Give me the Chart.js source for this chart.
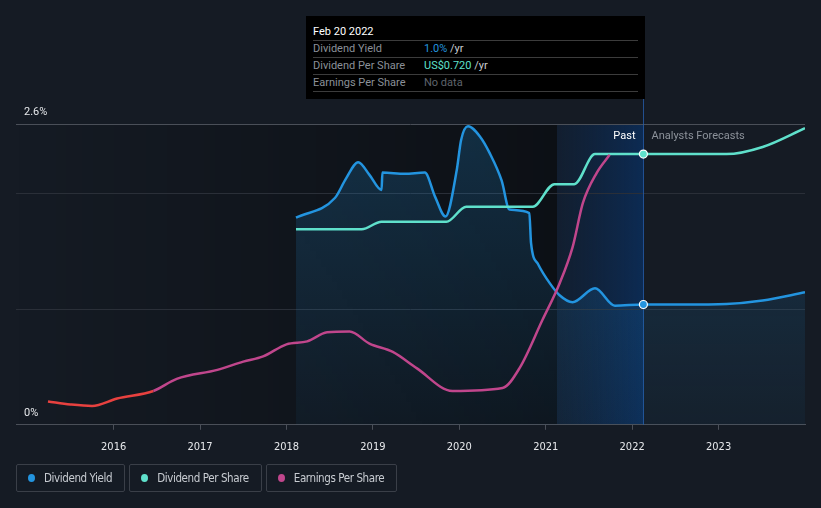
<!DOCTYPE html>
<html>
<head>
<meta charset="utf-8">
<script src="https://cdn.jsdelivr.net/npm/chart.js@4/dist/chart.umd.min.js"></script>
<style>
  body { margin: 0; background: #151b24; font-family: Roboto, sans-serif; }
  #wrap { position: relative; width: 821px; height: 508px; overflow: hidden; }
  canvas { position: absolute; left: 0; top: 0; }
  .tip { position: absolute; left: 306px; top: 16px; width: 339px; height: 83px; background: #000;
         box-sizing: border-box; padding: 0 7px; font-size: 11px; }
  .tip .title { padding-top: 8px; height: 16px; line-height: 15px; color: #fff; border-bottom: 1px solid #3c3c3c; }
  .tip .row { height: 16px; line-height: 16px; border-bottom: 1px solid #3c3c3c; color: #8b9098; white-space: nowrap; }
  .tip .row span.lbl { display: inline-block; width: 111px; }
  .tip .unit { color: #c9ccd1; }
  .legend { position: absolute; top: 464px; left: 16px; display: flex; gap: 4px; }
  .legend div { height: 26px; border: 1px solid #3a3f48; border-radius: 2px; box-sizing: content-box;
                display: flex; align-items: center; padding: 0 12px 0 11px; color: #c8ccd2;
                font-family: "DejaVu Sans Condensed", "DejaVu Sans", sans-serif; font-size: 11.5px; letter-spacing: -0.4px; }
  .legend i { width: 7px; height: 8px; border-radius: 50%; margin-right: 9px; display: inline-block; }
</style>
</head>
<body>
<div id="wrap">
  <canvas id="chart" width="821" height="508"></canvas>
  <div class="tip" id="tip"></div>
  <div class="legend" id="legend"></div>
</div>
<script>
// dividend yield (%), past + analyst forecast
const yieldYears = [2018.11, 2018.56, 2018.69, 2018.83, 2018.96, 2019.10, 2019.11, 2019.37, 2019.60, 2019.72, 2019.84,
  2019.97, 2020.02, 2020.10, 2020.24, 2020.35, 2020.49, 2020.58, 2020.81, 2020.83, 2020.91, 2021.05, 2021.16,
  2021.31, 2021.57, 2021.80, 2022.13, 2022.60, 2023.09, 2023.51, 2024.00];
const yieldValues = [1.79, 1.96, 2.13, 2.27, 2.16, 2.03, 2.18, 2.17, 2.18, 1.97, 1.80,
  2.20, 2.46, 2.58, 2.49, 2.35, 2.11, 1.86, 1.83, 1.57, 1.39, 1.22, 1.12,
  1.06, 1.18, 1.03, 1.04, 1.04, 1.045, 1.075, 1.145];

// dividend per share (US$ / yr)
const dpsYears = [2018.11, 2018.87, 2019.10, 2019.85, 2020.08, 2020.85, 2021.10, 2021.33, 2021.57, 2022.13, 2022.60, 2023.09, 2023.51, 2024.00];
const dpsValues = [0.52, 0.52, 0.54, 0.54, 0.58, 0.58, 0.64, 0.64, 0.72, 0.72, 0.72, 0.72, 0.739, 0.789];

// earnings per share (US$)
const epsYears = [2015.24, 2015.50, 2015.75, 2016.04, 2016.46, 2016.73, 2017.20, 2017.50, 2017.73, 2018.00, 2018.24,
  2018.47, 2018.73, 2018.96, 2019.23, 2019.51, 2019.92, 2020.50, 2020.70, 2020.96, 2021.16, 2021.31, 2021.43, 2021.59, 2021.74];
const epsValues = [0.31, 0.27, 0.25, 0.35, 0.45, 0.61, 0.73, 0.84, 0.91, 1.07, 1.11,
  1.23, 1.24, 1.08, 0.97, 0.75, 0.45, 0.49, 0.76, 1.39, 1.88, 2.36, 2.95, 3.35, 3.59];

const yearTicks = [2016, 2017, 2018, 2019, 2020, 2021, 2022, 2023];
const yieldTicks = [0, 1, 2, 2.6];
const nowX = 2022.13;
const nowLabel = "Feb 20 2022";
const lastYearX = 2021.13;

const BLUE = "#2394df", TEAL = "#5fe0cb", PINK = "#c0468c", RED = "#e8413f";

const pts = (xs, ys) => xs.map((x, i) => ({ x: x, y: ys[i] }));
const markerRadius = ctx => (ctx.raw && ctx.raw.x === nowX ? 4 : 0);

const shading = {
  id: "shading",
  beforeDraw(chart) {
    const { ctx, chartArea: ca, scales } = chart;
    const xs = scales.x;
    const xl = xs.getPixelForValue(lastYearX), xn = xs.getPixelForValue(nowX);
    ctx.save();
    let g = ctx.createLinearGradient(ca.left, 0, xl, 0);
    g.addColorStop(0, "rgba(0,0,0,0)");
    g.addColorStop(1, "rgba(0,0,0,0.4)");
    ctx.fillStyle = g;
    ctx.fillRect(ca.left, ca.top, xl - ca.left, ca.bottom - ca.top);
    g = ctx.createLinearGradient(xl, 0, xn, 0);
    g.addColorStop(0, "rgba(14,38,70,0.35)");
    g.addColorStop(1, "rgba(12,44,86,0.95)");
    ctx.fillStyle = g;
    ctx.fillRect(xl, ca.top, xn - xl, ca.bottom - ca.top);
    ctx.restore();
  },
  beforeDatasetsDraw(chart) {
    const { ctx, chartArea: ca, scales } = chart;
    const xn = Math.round(scales.x.getPixelForValue(nowX)) + 0.5;
    ctx.save();
    ctx.strokeStyle = "rgba(38,92,170,0.8)";
    ctx.lineWidth = 1;
    ctx.beginPath();
    ctx.moveTo(xn, 99);
    ctx.lineTo(xn, ca.bottom);
    ctx.stroke();
    ctx.font = "11px Roboto";
    ctx.textBaseline = "middle";
    ctx.textAlign = "right";
    ctx.fillStyle = "#ffffff";
    ctx.fillText("Past", xn - 8, ca.top + 12);
    ctx.textAlign = "left";
    ctx.fillStyle = "#8c929a";
    ctx.fillText("Analysts Forecasts", xn + 8, ca.top + 12);
    ctx.restore();
  }
};

const chart = new Chart(document.getElementById("chart"), {
  type: "line",
  data: {
    datasets: [
      {
        label: "Earnings Per Share",
        data: pts(epsYears, epsValues),
        yAxisID: "yEps",
        borderColor: PINK,
        borderWidth: 2.5,
        pointRadius: 0,
        cubicInterpolationMode: "monotone",
        segment: { borderColor: ctx => (ctx.p1.parsed.x <= 2016.46 ? RED : PINK) }
      },
      {
        label: "Dividend Per Share",
        data: pts(dpsYears, dpsValues),
        yAxisID: "yDps",
        borderColor: TEAL,
        borderWidth: 2.5,
        cubicInterpolationMode: "monotone",
        pointRadius: markerRadius,
        pointBackgroundColor: TEAL,
        pointBorderColor: "#fff",
        pointBorderWidth: 1.2
      },
      {
        label: "Dividend Yield",
        data: pts(yieldYears, yieldValues),
        yAxisID: "y",
        borderColor: BLUE,
        borderWidth: 2.5,
        cubicInterpolationMode: "monotone",
        pointRadius: markerRadius,
        pointBackgroundColor: BLUE,
        pointBorderColor: "#fff",
        pointBorderWidth: 1.2,
        fill: "origin",
        backgroundColor: ctx => {
          const ca = ctx.chart.chartArea;
          if (!ca) return "rgba(35,148,223,0.1)";
          const g = ctx.chart.ctx.createLinearGradient(0, ca.top, 0, ca.bottom);
          g.addColorStop(0, "rgba(35,148,223,0.22)");
          g.addColorStop(1, "rgba(35,148,223,0.05)");
          return g;
        }
      }
    ]
  },
  options: {
    responsive: false,
    animation: false,
    layout: { padding: { left: 0, right: 16, top: 124, bottom: 43 } },
    plugins: { legend: { display: false }, tooltip: { enabled: false } },
    scales: {
      x: {
        type: "linear",
        min: 2014.87,
        max: 2024.0,
        afterBuildTicks: axis => { axis.ticks = yearTicks.map(v => ({ value: v })); },
        grid: { display: true, drawOnChartArea: false, drawTicks: true, tickLength: 5, color: "#4a4f58" },
        border: { display: true, color: "#4a4f58", width: 1 },
        ticks: {
          color: "#e6e8eb",
          padding: 11,
          maxRotation: 0,
          font: { family: "DejaVu Sans Condensed", size: 11 },
          callback: v => String(v)
        }
      },
      y: {
        min: 0,
        max: 2.6,
        afterBuildTicks: axis => { axis.ticks = yieldTicks.map(v => ({ value: v })); },
        grid: {
          drawTicks: false,
          color: c => (c.tick && (c.tick.value === 2.6 || c.tick.value === 0) ? "#4a4f58" : "#2a2f38")
        },
        border: { display: false },
        ticks: {
          mirror: true,
          padding: 8,
          labelOffset: -12,
          color: "#e6e8eb",
          font: { family: "Roboto", size: 11 },
          callback: v => (v === 0 || v === 2.6 ? v + "%" : "")
        }
      },
      yDps: { display: false, min: 0, max: 0.8 },
      yEps: { display: false, min: 0, max: 4 }
    }
  },
  plugins: [shading]
});

// tooltip box for the "now" point, read from the series
const yNow = yieldValues[yieldYears.indexOf(nowX)];
const dNow = dpsValues[dpsYears.indexOf(nowX)];
document.getElementById("tip").innerHTML =
  '<div class="title">' + nowLabel + '</div>' +
  '<div class="row"><span class="lbl">Dividend Yield</span><span style="color:' + BLUE + '">' + yNow.toFixed(1) + '%</span><span class="unit"> /yr</span></div>' +
  '<div class="row"><span class="lbl">Dividend Per Share</span><span style="color:' + TEAL + '">US$' + dNow.toFixed(3) + '</span><span class="unit"> /yr</span></div>' +
  '<div class="row"><span class="lbl">Earnings Per Share</span><span style="color:#5f646c">No data</span></div>';

document.getElementById("legend").innerHTML = [["Dividend Yield", BLUE], ["Dividend Per Share", TEAL], ["Earnings Per Share", PINK]]
  .map(l => '<div><i style="background:' + l[1] + '"></i>' + l[0] + '</div>').join("");
</script>
</body>
</html>
